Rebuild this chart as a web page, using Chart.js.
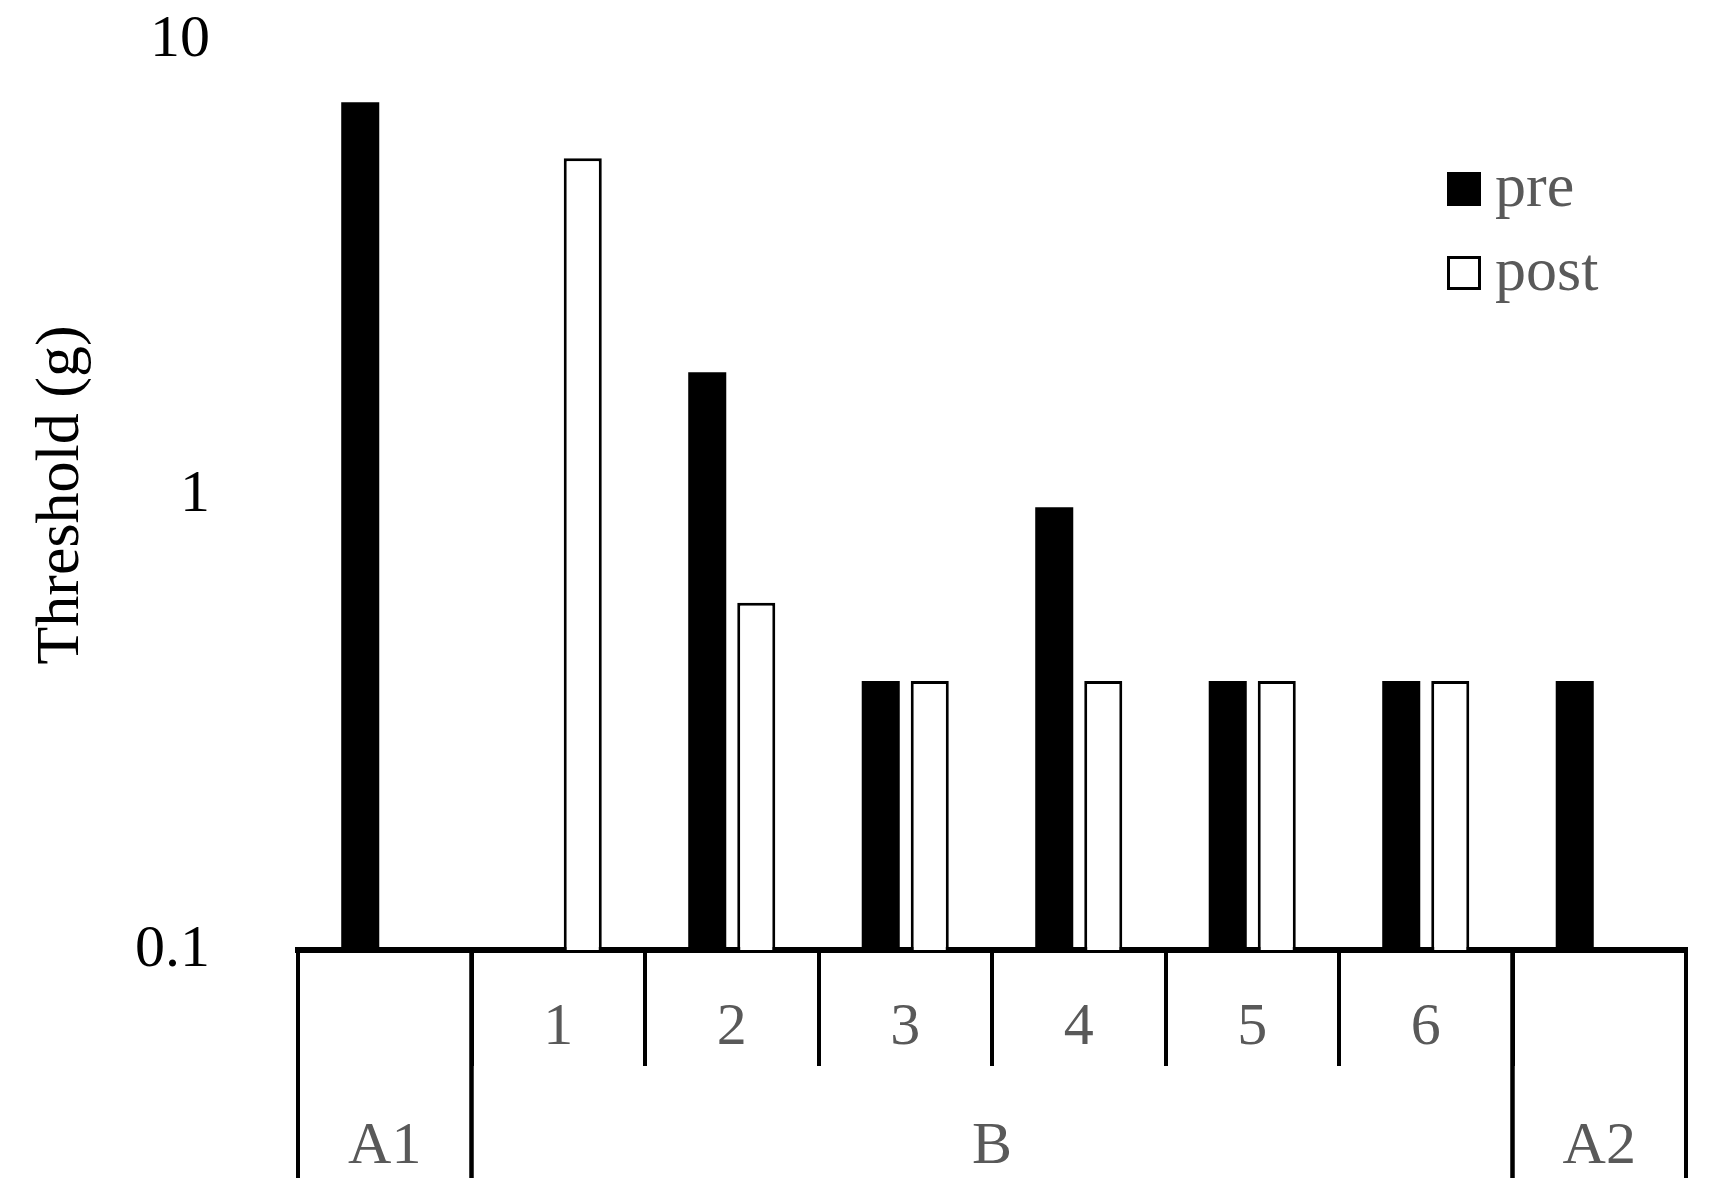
<!DOCTYPE html>
<html>
<head>
<meta charset="utf-8">
<title>Threshold pre / post</title>
<script src="https://cdn.jsdelivr.net/npm/chart.js@4.4.1/dist/chart.umd.min.js"></script>
<style>
  html, body { margin: 0; padding: 0; background: #fff; }
  canvas { display: block; }
</style>
</head>
<body>
<canvas id="myChart" width="1719" height="1204"></canvas>
<script>
const categories = ['A1', '1', '2', '3', '4', '5', '6', 'A2'];
const sessionLabels = ['', '1', '2', '3', '4', '5', '6', ''];
const phaseLabels = ['A1', 'B', 'A2'];
const phaseFirst = [0, 1, 7];
const phaseLast = [0, 6, 7];
const preValues = [7.3, null, 1.86, 0.39, 0.94, 0.39, 0.39, 0.39];
const postValues = [null, 5.5, 0.58, 0.39, 0.39, 0.39, 0.39, null];
const yTicks = [0.1, 1, 10];

const serif = "'Liberation Serif', 'Times New Roman', serif";
const grey = '#595959';

// second row of the x axis: A1 | B | A2, built from the category scale
const phaseAxis = {
    id: 'phaseAxis',
    afterDraw(chart) {
        const x = chart.scales.x;
        const ctx = chart.ctx;
        const half = (x.getPixelForValue(1) - x.getPixelForValue(0)) / 2;
        const top = chart.chartArea.bottom;
        ctx.save();
        ctx.strokeStyle = '#000';
        ctx.lineWidth = 4;
        ctx.fillStyle = grey;
        ctx.font = '60px ' + serif;
        ctx.textAlign = 'center';
        ctx.textBaseline = 'middle';
        phaseLabels.forEach((label, i) => {
            const left = x.getPixelForValue(phaseFirst[i]) - half;
            const right = x.getPixelForValue(phaseLast[i]) + half;
            [left, right].forEach(px => {
                ctx.beginPath();
                ctx.moveTo(px, top);
                ctx.lineTo(px, top + 228);
                ctx.stroke();
            });
            ctx.fillText(label, (left + right) / 2, top + 197);
        });
        ctx.restore();
    }
};

// legend boxes in the top right corner
const legendBoxes = {
    id: 'legendBoxes',
    afterDraw(chart) {
        const ctx = chart.ctx;
        ctx.save();
        ctx.font = '62px ' + serif;
        ctx.textBaseline = 'alphabetic';
        chart.data.datasets.forEach((ds, i) => {
            const y = 172 + i * 84;
            ctx.fillStyle = ds.backgroundColor;
            ctx.fillRect(1447, y, 34, 34);
            ctx.strokeStyle = '#000';
            ctx.lineWidth = 3;
            ctx.strokeRect(1448.5, y + 1.5, 31, 31);
            ctx.fillStyle = grey;
            ctx.fillText(ds.label, 1495, y + 34);
        });
        ctx.restore();
    }
};

const ctx = document.getElementById('myChart').getContext('2d');
const chart = new Chart(ctx, {
    type: 'bar',
    data: {
        labels: categories,
        datasets: [
            { label: 'pre', data: preValues, backgroundColor: '#000', borderColor: '#000', borderWidth: 0,
              categoryPercentage: 0.565, barPercentage: 0.776 },
            { label: 'post', data: postValues, backgroundColor: '#fff', borderColor: '#000', borderWidth: 3,
              categoryPercentage: 0.565, barPercentage: 0.776 }
        ]
    },
    options: {
        responsive: false,
        animation: false,
        layout: { padding: { left: 0, right: 33, top: 40, bottom: 0 } },
        plugins: { legend: { display: false }, tooltip: { enabled: false } },
        scales: {
            x: {
                offset: true,
                grid: { offset: true, drawOnChartArea: false, drawTicks: true, tickLength: 116, color: '#000', lineWidth: 4 },
                border: { display: true, color: '#000', width: 6 },
                ticks: {
                    autoSkip: false, maxRotation: 0, padding: -74, color: grey,
                    font: { family: serif, size: 60 },
                    callback: (v, i) => sessionLabels[i]
                },
                afterFit: s => { s.height = 254; }
            },
            y: {
                type: 'logarithmic',
                min: 0.1,
                max: 10,
                // invisible tick marks push the labels away from the plot
                grid: { display: true, drawOnChartArea: false, drawTicks: true, tickLength: 88, color: 'rgba(0,0,0,0)' },
                border: { display: false },
                afterBuildTicks: s => { s.ticks = yTicks.map(v => ({ value: v })); },
                ticks: {
                    padding: 0, color: '#000',
                    font: { family: serif, size: 60 },
                    callback: v => String(v)
                },
                title: {
                    display: true, text: 'Threshold (g)', color: '#000',
                    font: { family: serif, size: 62 },
                    padding: { top: 25, bottom: 0 }
                },
                afterFit: s => { s.width = 298; }
            }
        }
    },
    plugins: [phaseAxis, legendBoxes]
});
</script>
</body>
</html>
